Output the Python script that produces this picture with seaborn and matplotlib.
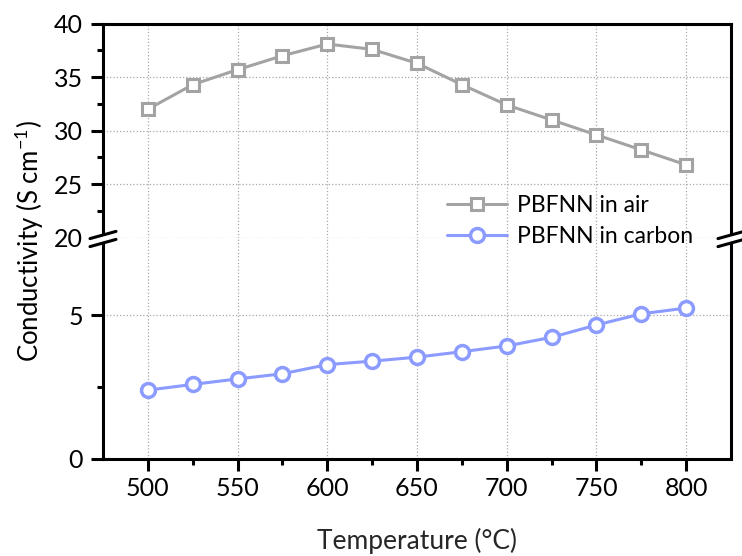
import numpy as np
import pandas as pd
import seaborn as sns
import matplotlib.pyplot as plt
from matplotlib.lines import Line2D
from matplotlib.patches import Polygon

# data
temperature = [500, 525, 550, 575, 600, 625, 650, 675, 700, 725, 750, 775, 800]
cond_air = [32.0, 34.3, 35.7, 37.0, 38.1, 37.6, 36.3, 34.3, 32.4, 31.0, 29.6, 28.2, 26.8]
cond_carbon = [2.39, 2.59, 2.78, 2.96, 3.28, 3.40, 3.54, 3.73, 3.93, 4.23, 4.66, 5.05, 5.25]

air_color = '#a3a3a3'
carbon_color = '#8b9bff'

df_air = pd.DataFrame({'T': temperature, 'sigma': cond_air})
df_carbon = pd.DataFrame({'T': temperature, 'sigma': cond_carbon})

sns.set_style('ticks')
plt.rcParams['font.family'] = ['Lato', 'DejaVu Sans']
plt.rcParams['mathtext.fontset'] = 'custom'
plt.rcParams['mathtext.rm'] = 'Lato'
plt.rcParams['text.color'] = 'black'
plt.rcParams['xtick.color'] = 'black'
plt.rcParams['ytick.color'] = 'black'

W, H = 742, 556
fig = plt.figure(figsize=(W / 100, H / 100), dpi=100)

left, right = 103 / W, 731 / W
top, brk, bottom = 1 - 23.7 / H, 1 - 237.5 / H, 1 - 458.7 / H
ax_top = fig.add_axes([left, brk, right - left, top - brk])
ax_bot = fig.add_axes([left, bottom, right - left, brk - bottom])

sns.lineplot(data=df_air, x='T', y='sigma', ax=ax_top, color=air_color, lw=2.2,
             marker='s', markersize=9, markerfacecolor='white',
             markeredgecolor=air_color, markeredgewidth=2.2, zorder=5)
sns.lineplot(data=df_carbon, x='T', y='sigma', ax=ax_bot, color=carbon_color, lw=2.2,
             marker='o', markersize=10, markerfacecolor='white',
             markeredgecolor=carbon_color, markeredgewidth=2.5, zorder=5)

for ax in (ax_top, ax_bot):
    ax.set_xlim(475, 825)
    ax.set_xticks([500, 550, 600, 650, 700, 750, 800])
    ax.set_xticks([525, 575, 625, 675, 725, 775], minor=True)
    ax.grid(True, which='major', color='#a8a8a8', ls=':', lw=0.9)
    ax.set_xlabel('')
    ax.set_ylabel('')
    for s in ax.spines.values():
        s.set_linewidth(2.2)
        s.set_color('black')
    ax.tick_params(which='major', direction='out', length=8.5, width=2.2, labelsize=18, pad=5)
    ax.tick_params(which='minor', direction='out', length=4.5, width=2.2)
    ax.tick_params(axis='y', which='major', pad=6)

ax_top.set_ylim(20, 40)
ax_top.set_yticks([20, 25, 30, 35, 40])
ax_top.set_yticks([22.5, 27.5, 32.5, 37.5], minor=True)
ax_top.spines['bottom'].set_visible(False)
ax_top.tick_params(axis='x', which='both', bottom=False, labelbottom=False)

ax_bot.set_ylim(0, 7.71)
ax_bot.set_yticks([0, 5])
ax_bot.set_yticks([2.5], minor=True)
ax_bot.spines['top'].set_visible(False)
ax_bot.set_xlabel('Temperature (°C)', fontsize=19, labelpad=20)

fig.text(0.040, (top + bottom) / 2, 'Conductivity (S cm$^{-1}$)', rotation=90,
         ha='center', va='center', fontsize=18.5)

# axis break marks on both sides
for xs in (left, right):
    xc, yc = xs * W, (1 - brk) * H + 1.5
    dx, dy, gap = 13, 3.6, 4
    up = [(xc - dx, yc + dy - gap), (xc + dx, yc - dy - gap)]
    lo = [(xc - dx, yc + dy + gap), (xc + dx, yc - dy + gap)]
    poly = [up[0], up[1], lo[1], lo[0]]
    fig.patches.append(Polygon([(x / W, 1 - y / H) for x, y in poly], closed=True,
                               transform=fig.transFigure, fc='white', ec='none', zorder=10))
    for seg in (up, lo):
        fig.add_artist(Line2D([p[0] / W for p in seg], [1 - p[1] / H for p in seg],
                              transform=fig.transFigure, color='black', lw=2.2, zorder=11))

handles = [
    Line2D([], [], color=air_color, lw=2.2, marker='s', markersize=9,
           markerfacecolor='white', markeredgecolor=air_color, markeredgewidth=2.2),
    Line2D([], [], color=carbon_color, lw=2.2, marker='o', markersize=10,
           markerfacecolor='white', markeredgecolor=carbon_color, markeredgewidth=2.5),
]
leg = fig.legend(handles, ['PBFNN in air', 'PBFNN in carbon'], loc='center left',
                 bbox_to_anchor=(447 / W, 1 - 221 / H), frameon=False, fontsize=16.5,
                 borderpad=0, borderaxespad=0, handlelength=2.6, handletextpad=0.45,
                 labelspacing=0.45)
leg.set_zorder(20)

fig.savefig('out.png', dpi=100)
